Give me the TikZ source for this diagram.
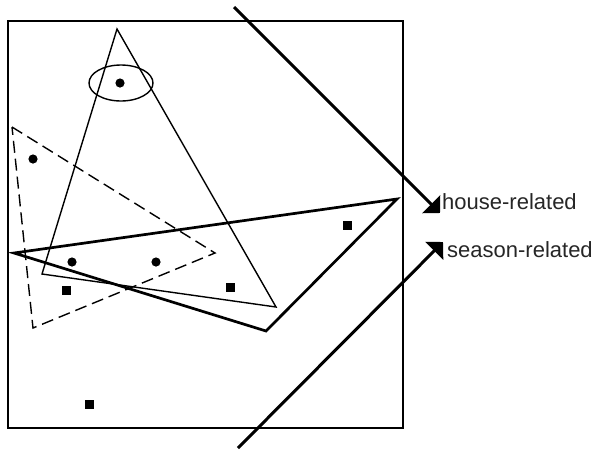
\documentclass[tikz,border=0pt]{standalone}
\usepackage{fontspec}
\setmainfont{Liberation Sans}
\usetikzlibrary{arrows.meta}
\begin{document}
\begin{tikzpicture}[x=1pt,y=-1pt,
  thinline/.style={line width=1.4pt},
  dashline/.style={line width=1.4pt,dash pattern=on 12pt off 6pt},
  thickline/.style={line width=2.7pt,line join=miter},
  dot/.style={fill=black},
  sq/.style={fill=black},
  bigarrow/.style={line width=3pt,-{Triangle[length=12.5pt,width=25pt]}},
  lab/.style={font=\fontsize{22}{26}\selectfont,inner sep=0pt,anchor=west,text=black!85}]
\useasboundingbox (0,0) rectangle (596,451);
% frame
\draw[line width=2pt] (8,21) rectangle (403,428);
% tall thin triangle
\draw[thinline] (117,29) -- (42,274) -- (276,307) -- cycle;
% ellipse
\draw[thinline] (121,83) ellipse [x radius=32, y radius=18];
% dashed triangle
\draw[dashline] (12,127) -- (215,253) -- (33,328) -- cycle;
% thick triangle
\draw[thickline] (14,253) -- (397,199) -- (266,331) -- cycle;
% dots
\fill[dot] (120,83) circle (4.6);
\fill[dot] (33,159) circle (4.6);
\fill[dot] (72,262) circle (4.6);
\fill[dot] (156,262) circle (4.6);
% squares
\fill[sq] (62,286) rectangle ++(8.5,8.5);
\fill[sq] (226,283) rectangle ++(8.5,8.5);
\fill[sq] (343,221) rectangle ++(8.5,8.5);
\fill[sq] (85,400) rectangle ++(8.5,8.5);
% labels
\node[lab] (house) at (442,202) {house-related};
\node[lab] (season) at (447,250) {season-related};
% arrows
\coordinate (hstart) at (234,7);
\coordinate (htip) at (440,213);
\coordinate (sstart) at (238,448);
\coordinate (stip) at (443,242);
\draw[bigarrow] (hstart) -- (htip);
\draw[bigarrow] (sstart) -- (stip);
\end{tikzpicture}
\end{document}
